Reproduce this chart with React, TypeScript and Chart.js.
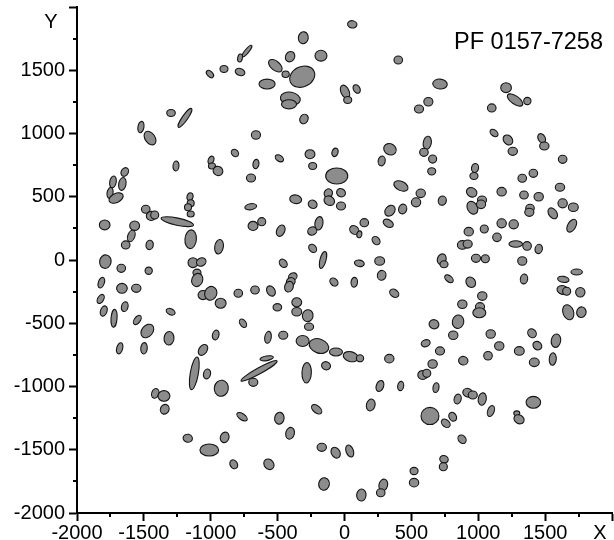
import React, { useEffect, useRef } from 'react';
import { Chart, registerables } from 'chart.js';

Chart.register(...registerables);

const chartTitle = 'PF 0157-7258';
const axisMin = -2000;
const axisMax = 2000;
const majorStep = 500;
const minorStep = 250;

// ellipse centres (X, Y), semi-major / semi-minor axes (same units), position angle (deg)
const xs = [
  -729, -781, -781, -901, -1006, -1297, -1193, -1522, -1454, -1260, -819, -998, -991, -946, -662, -699,
  58, -308, -407, -176, -517, -440, -316, -579, -405, -415, -303, -662, 4, 24, 91, 402, 557, -487, -258, -238, -71, -58, 340, 278,
  714, 627, 1208, 1275, 1367, 1101, 1118, 1222, 1258, 1474, 1494, 1631, 619, 594, 659, 652, 976, 968, 1329, 1412, 1611,
  -1643, -1731, -1661, -1753, -1708, -1486, -1445, -1419, -1250, -1155, -1150, -1170, -1150, -1150, -1793, -1569, -1594, -1636, -1457, -938, -701, -684,
  -1788, -1669, -1464, -1133, -1071, -1103, -1101, -1818, -1664, -1557, -1823, -1800, -1723, -1643, -1549, -1474, -1312, -1681, -1499, -1058,
  -1058, -1000, -926, -794, -669, -1300, -759, -963,
  422, 570, 535, -365, -238, -121, -114, -26, -26, 340, 435, -619, -477, -191, -241, 148, 73, 111, 327, 236, -238, -161, -458, 111, 263, 278,
  -79, 73, -387, -402, -415, -550, 372, -502, -357, -357, -275, -265, -572, -458, -313, -191, -64, 46, 116, 607, 669,
  731, 951, 956, 1028, 1021, 1175, 1342, 1452, 1387, 1382, 1557, 1631, 1711, 1699, 929, 1045, 1175, 1265, 1140, 881, 921, 1280, 1365, 1452,
  727, 744, 983, 1053, 1329, 1736, 1636, 781, 944, 1342, 1631, 1661, 1763, 1030, 881, 1013, 1008, 1673, 1771, 849, 813, 1093, 1402, 1581,
  1442, 1157, 714, 1307, 1073,
  -1123, -1028, -921, -639, -582, -682, -1415, -1350, -1344, -766, -1172, -896, -1011, -828,
  -283, -138, 335, 265, 420, 585, 615, 196, -208, -487, -407, -170, -66, 39, -565, -153, 126, 290, 271, 520, 520,
  888, 1419, 1557, 659, 684, 846, 921, 959, 1030, 1095, 1412, 639, 757, 809, 1288, 1305, 879, 744, 739,
];
const ys = [
  1652, 1597, 1486, 1510, 1470, 1162, 1123, 1051, 964, 743, 846, 790, 743, 704, 759, 648,
  1863, 1757, 1607, 1615, 1536, 1468, 1449, 1391, 1275, 1231, 1115, 988, 1330, 1265, 1352, 1581, 1194, 804, 836, 743, 851, 664, 875, 783,
  1391, 1251, 1362, 1265, 1257, 1202, 1004, 949, 859, 962, 901, 796, 927, 851, 798, 701, 727, 664, 646, 685, 575,
  696, 617, 601, 530, 490, 401, 348, 356, 303, 500, 448, 417, 364, 164, 277, 271, 190, 119, 119, 105, 421, 269,
  -13, -66, -85, -21, -16, -100, -158, -179, -224, -224, -308, -403, -461, -369, -474, -561, -619, -698, -698, -711,
  -277, -263, -342, -263, -237, -409, -500, -593,
  585, 527, 456, 480, 440, 527, 469, 532, 427, 390, 403, 303, 232, 290, 229, 295, 237, 203, 290, 153, 92, 0, -26, -26, -8, -121,
  -174, -176, -132, -172, -211, -245, -263, -374, -334, -409, -440, -527, -611, -595, -640, -680, -727, -764, -777, -658, -508,
  469, 535, 413, 474, 440, 540, 514, 500, 409, 377, 369, 448, 417, 271, 224, 245, 290, 282, 179, 119, 126, 126, 111, 87,
  6, -34, 13, 10, -8, -95, -153, -148, -176, -150, -237, -247, -255, -285, -350, -369, -417, -413, -413, -488, -595, -585, -579, -638,
  -677, -680, -719, -719, -757,
  -896, -901, -1014, -877, -777, -967, -1054, -1075, -1180, -1239, -1409, -1402, -1502, -1615,
  -891, -836, -780, -996, -996, -909, -896, -1146, -1180, -1251, -1370, -1481, -1523, -1510, -1615, -1771, -1858, -1779, -1840, -1668, -1760,
  -796, -809, -783, -822, -1009, -1099, -1049, -1067, -1099, -1194, -1125, -1233, -1291, -1239, -1212, -1259, -1417, -1575, -1634,
];
const majorAxes = [
  56, 31, 38, 31, 33, 33, 88, 44, 58, 38, 31, 31, 27, 38, 36, 35,
  36, 46, 41, 46, 62, 28, 100, 62, 77, 58, 38, 35, 54, 31, 35, 33, 35, 35, 38, 31, 33, 85, 50, 38,
  56, 35, 41, 69, 28, 33, 35, 42, 36, 38, 36, 33, 50, 33, 31, 31, 35, 31, 33, 33, 36,
  35, 46, 50, 42, 58, 33, 38, 31, 127, 31, 27, 27, 27, 72, 41, 38, 46, 33, 36, 56, 46, 38,
  52, 33, 28, 38, 38, 31, 52, 42, 41, 36, 38, 41, 69, 38, 41, 58, 52, 44, 44, 46,
  38, 54, 42, 33, 33, 36, 36, 38,
  58, 36, 36, 46, 35, 35, 42, 35, 35, 46, 38, 31, 46, 52, 36, 33, 38, 27, 42, 35, 35, 67, 35, 38, 38, 38,
  35, 38, 35, 35, 42, 42, 38, 33, 38, 38, 46, 35, 46, 35, 50, 77, 50, 58, 28, 35, 38,
  36, 42, 52, 35, 35, 36, 33, 36, 33, 35, 46, 36, 38, 54, 36, 31, 36, 36, 33, 38, 35, 52, 33, 36,
  42, 31, 35, 31, 35, 44, 44, 38, 42, 38, 44, 31, 36, 36, 36, 35, 50, 59, 41, 52, 36, 36, 36, 52,
  36, 36, 35, 38, 33,
  127, 38, 62, 158, 52, 35, 38, 46, 38, 46, 36, 41, 72, 36,
  79, 35, 36, 44, 36, 38, 31, 46, 46, 46, 46, 36, 44, 48, 44, 48, 46, 46, 33, 31, 36,
  36, 38, 48, 36, 38, 38, 38, 35, 48, 44, 56, 69, 38, 36, 23, 41, 36, 33, 31,
];
const minorAxes = [
  15, 18, 27, 27, 21, 27, 21, 23, 38, 23, 25, 21, 23, 35, 23, 31,
  28, 38, 35, 42, 35, 25, 77, 38, 50, 35, 31, 33, 31, 27, 25, 31, 31, 23, 35, 27, 23, 62, 42, 27,
  38, 33, 38, 31, 28, 31, 23, 33, 31, 27, 31, 31, 31, 31, 31, 28, 27, 27, 31, 31, 31,
  27, 25, 28, 23, 35, 31, 35, 31, 28, 23, 27, 27, 23, 44, 38, 36, 27, 31, 28, 33, 23, 35,
  44, 31, 28, 38, 31, 27, 42, 23, 38, 31, 23, 25, 23, 25, 23, 42, 38, 23, 25, 31,
  35, 46, 38, 31, 31, 23, 23, 25,
  35, 33, 35, 33, 31, 31, 35, 31, 31, 35, 31, 31, 31, 31, 31, 31, 31, 19, 28, 27, 27, 23, 27, 25, 33, 33,
  27, 25, 28, 31, 33, 31, 28, 28, 35, 33, 41, 28, 25, 31, 42, 54, 31, 38, 27, 27, 35,
  31, 35, 38, 31, 33, 33, 31, 33, 31, 31, 31, 35, 33, 31, 33, 31, 35, 35, 33, 33, 31, 25, 33, 28,
  33, 27, 31, 31, 33, 23, 23, 23, 35, 28, 33, 31, 36, 33, 33, 31, 38, 41, 36, 44, 33, 33, 31, 36,
  31, 33, 31, 33, 33,
  31, 27, 54, 23, 18, 31, 27, 41, 33, 23, 31, 33, 46, 28,
  36, 31, 33, 28, 23, 35, 31, 33, 27, 36, 33, 31, 33, 28, 36, 41, 36, 33, 31, 28, 33,
  33, 33, 27, 33, 23, 27, 33, 31, 31, 25, 46, 66, 27, 28, 19, 33, 28, 28, 31,
];
const angles = [
  50, 80, -20, 0, -45, 0, 55, 80, -55, 85, -45, 70, 0, -30, 80, 0,
  -10, 80, 60, 0, -40, 0, 25, 0, -10, 0, 60, 0, -65, 0, -60, 0, 0, -35, 0, 0, 70, 0, -30, 80,
  -5, 0, 0, -35, 0, 0, -40, -50, 0, -60, 0, 0, 80, 0, 0, 0, 80, 0, 0, 0, 0,
  60, 80, 80, 80, 25, 0, 0, 0, -12, 70, 0, 0, 0, 85, 0, 0, 70, 0, 80, 80, 10, 0,
  80, 0, 0, 0, 30, 0, 70, 70, 0, 0, 60, 70, 85, 75, 55, 50, 85, 75, 85, 55,
  0, 70, 0, 0, 0, -25, -55, 75,
  -25, 0, 0, -10, -30, 60, -30, -30, 0, 50, 75, 0, 65, 80, 30, 0, -40, 80, -30, -50, -50, 75, -50, -10, 0, 80,
  -45, 85, 30, 30, 70, -60, -35, 0, 0, 0, 80, 0, 80, 0, 0, -20, 0, -15, 0, 20, -20,
  80, -30, -60, 0, 0, 0, 0, 0, 0, 0, -55, 0, 0, 60, 0, 0, 0, 0, 0, 0, 0, 0, 0, 75,
  70, 0, 0, 0, 0, 0, -10, -40, -55, 80, -15, 0, 0, 0, 0, 0, 0, -70, 80, 80, 0, 0, -50, 80,
  -40, 0, 0, 0, 0,
  80, 75, 80, 29, 10, 0, 70, 0, 70, -35, -10, 70, 0, -60,
  88, -20, 0, 70, 80, 0, 0, 75, -40, 80, 75, 0, -60, -70, -50, 80, 85, 75, 0, 0, 0,
  -10, 0, 85, 0, 80, 75, -20, 0, 80, 70, 0, 0, -40, -60, 0, -30, -50, -20, 0,
];

const FONT = '"Liberation Sans", Arial, sans-serif';

export default function App() {
  const ref = useRef<HTMLCanvasElement>(null);

  useEffect(() => {
    const canvas = ref.current;
    if (!canvas) return;

    const ellipsePlugin = {
      id: 'ellipses',
      afterDatasetsDraw(chart: any) {
        const meta = chart.getDatasetMeta(0);
        const sx = chart.scales.x;
        const sy = chart.scales.y;
        const kx = Math.abs(sx.getPixelForValue(1000) - sx.getPixelForValue(0)) / 1000;
        const ky = Math.abs(sy.getPixelForValue(1000) - sy.getPixelForValue(0)) / 1000;
        const k = (kx + ky) / 2;
        const ctx = chart.ctx;
        ctx.save();
        meta.data.forEach((pt: any, i: number) => {
          ctx.beginPath();
          ctx.ellipse(pt.x, pt.y, majorAxes[i] * k, minorAxes[i] * k, (-angles[i] * Math.PI) / 180, 0, Math.PI * 2);
          ctx.fillStyle = '#8c8c8c';
          ctx.fill();
          ctx.lineWidth = 1.1;
          ctx.strokeStyle = '#151515';
          ctx.stroke();
        });
        ctx.restore();
      },
    };

    const decorPlugin = {
      id: 'decor',
      afterDraw(chart: any) {
        const ctx = chart.ctx;
        const sx = chart.scales.x;
        const sy = chart.scales.y;
        const area = chart.chartArea;
        ctx.save();
        ctx.strokeStyle = '#000';
        ctx.lineWidth = 2;
        for (let v = axisMin; v <= axisMax; v += minorStep) {
          if (v % majorStep === 0) continue;
          const px = Math.round(sx.getPixelForValue(v));
          ctx.beginPath();
          ctx.moveTo(px, area.bottom);
          ctx.lineTo(px, area.bottom + 4);
          ctx.stroke();
          const py = Math.round(sy.getPixelForValue(v));
          ctx.beginPath();
          ctx.moveTo(area.left - 4, py);
          ctx.lineTo(area.left, py);
          ctx.stroke();
        }
        ctx.fillStyle = '#000';
        ctx.font = `20px ${FONT}`;
        ctx.textAlign = 'center';
        ctx.textBaseline = 'middle';
        ctx.fillText('X', sx.getPixelForValue(axisMax) - 12, 533);
        ctx.fillText('Y', 51, sy.getPixelForValue(axisMax) + 15);
        ctx.font = `23.5px ${FONT}`;
        ctx.textAlign = 'right';
        ctx.fillText(chartTitle, 603, 43);
        ctx.restore();
      },
    };

    const chart = new Chart(canvas, {
      type: 'scatter',
      data: {
        datasets: [
          {
            data: xs.map((x, i) => ({ x, y: ys[i] })),
            pointRadius: 0,
            pointHoverRadius: 0,
            showLine: false,
          },
        ],
      },
      options: {
        animation: false,
        responsive: false,
        devicePixelRatio: 1,
        events: [],
        layout: { padding: { top: 7, right: 2, left: 0, bottom: 0 } },
        plugins: { legend: { display: false }, tooltip: { enabled: false }, title: { display: false } },
        scales: {
          x: {
            type: 'linear',
            min: axisMin,
            max: axisMax,
            afterFit: (s: any) => {
              s.height = 27;
              s.paddingLeft = 0;
              s.paddingRight = 0;
            },
            border: { display: true, color: '#000', width: 2 },
            grid: { drawOnChartArea: false, drawTicks: true, tickLength: 8, tickWidth: 2, color: '#000' },
            ticks: {
              stepSize: majorStep,
              autoSkip: false,
              maxRotation: 0,
              minRotation: 0,
              padding: 0,
              color: '#000',
              font: { family: FONT, size: 20 },
              callback: (v: any) => (v === axisMax ? '' : String(v)),
            },
          },
          y: {
            type: 'linear',
            min: axisMin,
            max: axisMax,
            afterFit: (s: any) => {
              s.width = 77;
              s.paddingTop = 0;
              s.paddingBottom = 0;
            },
            border: { display: true, color: '#000', width: 2 },
            grid: { drawOnChartArea: false, drawTicks: true, tickLength: 8, tickWidth: 2, color: '#000' },
            ticks: {
              stepSize: majorStep,
              autoSkip: false,
              padding: 4,
              color: '#000',
              font: { family: FONT, size: 20 },
              callback: (v: any) => (v === axisMax ? '' : String(v)),
            },
          },
        },
      },
      plugins: [ellipsePlugin, decorPlugin],
    } as any);

    return () => chart.destroy();
  }, []);

  return (
    <div style={{ position: 'fixed', left: 0, top: 0, width: 614, height: 540, background: '#fff' }}>
      <canvas ref={ref} width={614} height={540} style={{ width: 614, height: 540, display: 'block' }} />
    </div>
  );
}
